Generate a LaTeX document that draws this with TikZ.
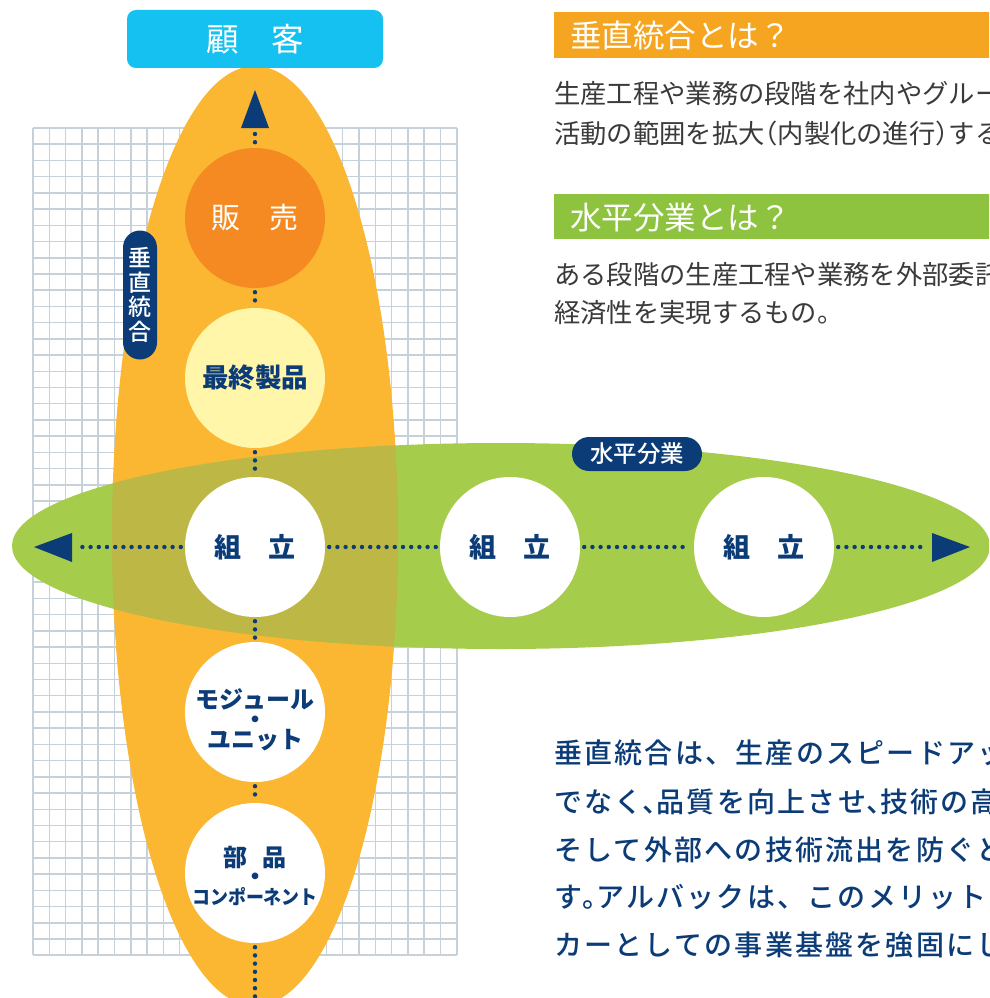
\documentclass[tikz,border=0pt]{standalone}
\usepackage{fontspec}
\setmainfont{Noto Sans CJK JP}
\newfontfamily\jpmed{Noto Sans CJK JP Medium}
\newfontfamily\jpmedls{Noto Sans CJK JP Medium}[LetterSpace=8]
\newcommand\nlft[1]{\makebox[0.5em][l]{#1}}
\newcommand\nrgt[1]{\makebox[0.5em][r]{#1}}
\definecolor{navy}{HTML}{0C3C78}
\definecolor{orangeE}{HTML}{FBB632}
\definecolor{greenE}{HTML}{A5CD4B}
\definecolor{oliveE}{HTML}{BDB745}
\definecolor{salesC}{HTML}{F48A21}
\definecolor{finalC}{HTML}{FFF6AA}
\definecolor{cyanC}{HTML}{14C1F0}
\definecolor{hdrO}{HTML}{F5A51F}
\definecolor{hdrG}{HTML}{8DC33F}
\definecolor{gridC}{HTML}{C6D1DA}
\definecolor{bodyC}{HTML}{3A3A3A}
\tikzset{
  gridline/.style={draw=gridC, line width=1.5pt},
  circ/.style={circle, minimum size=140pt, inner sep=0pt, fill=white},
  ctext/.style={text=navy, font=\bfseries\fontsize{26.5}{30}\selectfont, align=center, inner sep=0pt},
  dotline/.style={draw=navy, line width=4.4pt, line cap=round, dash pattern=on 0pt off 8.2pt},
  tag/.style={fill=navy, text=white, rounded corners=17pt, inner sep=0pt},
  bodytxt/.style={anchor=west, text=bodyC, inner sep=0pt, font=\fontsize{26.3}{30}\selectfont},
  bluetxt/.style={anchor=west, text=navy, inner sep=0pt, font=\jpmedls\fontsize{28}{32}\selectfont},
  hdrtxt/.style={anchor=west, text=white, inner sep=0pt, font=\fontsize{31.5}{34}\selectfont},
}
\begin{document}
\begin{tikzpicture}[x=1pt,y=-1pt]
\clip (0,0) rectangle (989,998);
\fill[white] (0,0) rectangle (989,998);
% grid
\foreach \i in {0,...,26} \draw[gridline] ({33+\i*16.3},128) -- ({33+\i*16.3},955);
\foreach \j in {0,...,51} \draw[gridline] (33,{128+\j*16.22}) -- (457,{128+\j*16.22});
% ellipses
\fill[orangeE] (255,536) ellipse [x radius=143pt, y radius=470pt];
\fill[greenE] (501,546) ellipse [x radius=489pt, y radius=103pt];
\begin{scope}
  \clip (255,536) ellipse [x radius=143pt, y radius=470pt];
  \fill[oliveE] (501,546) ellipse [x radius=489pt, y radius=103pt];
\end{scope}
% customer box
\node[fill=cyanC, rounded corners=9pt, minimum width=256pt, minimum height=58pt, inner sep=0pt,
      text=white, font=\fontsize{32.5}{36}\selectfont] (cust) at (255,39) {顧　客};
% arrows
\coordinate (upbase) at (255,128);
\coordinate (downend) at (255,1004);
\coordinate (lbase) at (72,547);
\coordinate (rbase) at (932,547);
\fill[navy] (241,128) -- (269,128) -- (255,90) -- cycle;
\fill[navy] (72,533) -- (72,562) -- (34,547) -- cycle;
\fill[navy] (932,533) -- (932,562) -- (970,547) -- cycle;
% circles
\node[circ, fill=salesC, text=white, font=\fontsize{29}{32}\selectfont] (sales) at (255,218) {販　売};
\node[circ, fill=finalC, ctext, minimum size=140pt] (final) at (255,378) {最終製品};
\node[circ] (asm1) at (255,547) {};
\node[circ] (asm2) at (510,547) {};
\node[circ] (asm3) at (764,547) {};
\node[circ] (mod) at (255,712) {};
\node[circ] (parts) at (255,873) {};
\node[ctext, font=\bfseries\fontsize{27}{30}\selectfont] (asm1t) at (255,547) {組　立};
\node[ctext, font=\bfseries\fontsize{27}{30}\selectfont] (asm2t) at (510,547) {組　立};
\node[ctext, font=\bfseries\fontsize{27}{30}\selectfont] (asm3t) at (764,547) {組　立};
\node[ctext, font=\bfseries\fontsize{24}{20}\selectfont] (modt) at (255,720) {モジュール\\・\\ユニット};
\node[ctext, font=\bfseries\fontsize{24}{19}\selectfont] (partst) at (255,876) {部\hspace{15pt}品\\・\\{\fontsize{19.5}{19}\selectfont\scalebox{0.92}[1]{コンポーネント}}};
% dotted connectors
\draw[dotline, shorten <=6pt, shorten >=4pt] (upbase) -- (sales);
\draw[dotline, shorten <=4pt, shorten >=4pt] (sales) -- (final);
\draw[dotline, shorten <=4pt, shorten >=4pt] (final) -- (asm1);
\draw[dotline, shorten <=4pt, shorten >=4pt] (asm1) -- (mod);
\draw[dotline, shorten <=4pt, shorten >=4pt] (mod) -- (parts);
\draw[dotline, shorten <=4pt] (parts) -- (downend);
\draw[dotline, shorten <=4pt, shorten >=5pt] (asm1) -- (lbase);
\draw[dotline, shorten <=4pt, shorten >=4pt] (asm1) -- (asm2);
\draw[dotline, shorten <=4pt, shorten >=4pt] (asm2) -- (asm3);
\draw[dotline, shorten <=4pt, shorten >=5pt] (asm3) -- (rbase);
% tags
\node[tag, minimum width=34pt, minimum height=129pt, align=center,
      font=\jpmed\fontsize{23}{24.5}\selectfont] (vtag) at (140,295) {垂\\直\\統\\合};
\node[tag, minimum width=130pt, minimum height=34pt,
      font=\jpmed\fontsize{23.5}{26}\selectfont] (htag) at (637,454) {水平分業};
% right headers
\fill[hdrO] (554,12) rectangle (995,58);
\node[hdrtxt] (h1) at (570,36) {垂直統合とは？};
\fill[hdrG] (554,194) rectangle (995,239);
\node[hdrtxt] (h2) at (570,218) {水平分業とは？};
\node[bodytxt] (b1) at (554,94) {生産工程や業務の段階を社内やグループ};
\node[bodytxt] (b2) at (554,134) {活動の範囲を拡大\nrgt{（}内製化の進行\nlft{）}する};
\node[bodytxt] (b3) at (554,275) {ある段階の生産工程や業務を外部委託};
\node[bodytxt] (b4) at (554,313) {経済性を実現するもの。};
\node[bluetxt] (t1) at (554,753) {垂直統合は、生産のスピードアップ};
\node[bluetxt] (t2) at (554,802) {でなく\nlft{、}品質を向上させ\nlft{、}技術の高};
\node[bluetxt] (t3) at (554,850) {そして外部への技術流出を防ぐと};
\node[bluetxt] (t4) at (554,897) {す\nlft{。}アルバックは、このメリットを};
\node[bluetxt] (t5) at (554,945) {カーとしての事業基盤を強固にし};
\end{tikzpicture}
\end{document}
